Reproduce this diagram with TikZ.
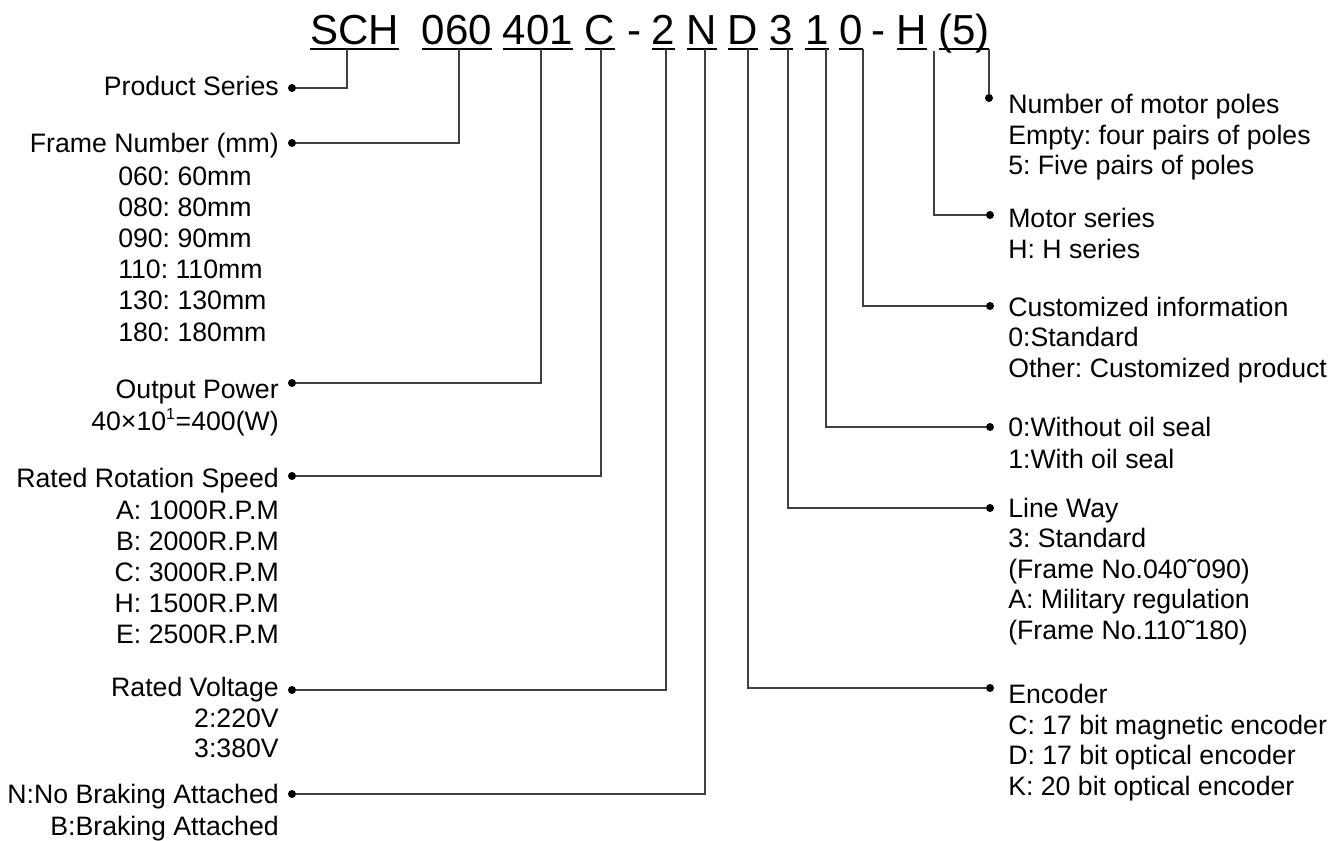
\documentclass[tikz,border=0pt]{standalone}
\usepackage{fontspec}
\setmainfont{Liberation Sans}
\frenchspacing
\begin{document}
\frenchspacing
\begin{tikzpicture}[x=0.75pt,y=-0.75pt,
  lbl/.style={inner sep=0pt,font=\fontsize{20}{24}\selectfont},
  lft/.style={lbl,anchor=base east},
  rgt/.style={lbl,anchor=base west},
  hdr/.style={inner sep=0pt,anchor=base,font=\fontsize{31.5}{36}\selectfont},
  uline/.style={line width=1pt},
  conn/.style={draw=black!75,line width=0.8pt},
  dot/.style={circle,fill=black,inner sep=0pt,minimum size=6pt}]
\useasboundingbox (0,0) rectangle (1341,841);
% header tokens
\node[hdr] (tSCH) at (354.5,45) {SCH};
\node[hdr] (t060) at (457,45) {060};
\node[hdr] (t401) at (538,45) {401};
\node[hdr] (tC) at (600,45) {C};
\node[hdr] (tda) at (634,45) {-};
\node[hdr] (t2) at (663.5,45) {2};
\node[hdr] (tN) at (702,45) {N};
\node[hdr] (tD) at (743,45) {D};
\node[hdr] (t3) at (781.5,45) {3};
\node[hdr] (t1) at (817,45) {1};
\node[hdr] (t0) at (851,45) {0};
\node[hdr] (tdb) at (878,45) {-};
\node[hdr] (tH) at (912,45) {H};
\node[hdr] (t5) at (964,45) {(5)};
% underlines
\foreach \a/\b in {310/399,422/492,503/573,585/615,652/675,687/717,728/758,770/793,805/829,839/863,897/927,939/989}
  \draw[uline] (\a,49) -- (\b,49);
% anchor coordinates on underlines
\coordinate (uSCH) at (347,49);
\coordinate (u060) at (459,49);
\coordinate (u401) at (541,49);
\coordinate (uC) at (601,49);
\coordinate (u2) at (666,49);
\coordinate (uN) at (705,49);
\coordinate (uD) at (748,49);
\coordinate (u3) at (788,49);
\coordinate (u1) at (826,49);
\coordinate (u0) at (863,49);
\coordinate (uH) at (934,51);
\coordinate (u5) at (989,49);
% dots
\node[dot] (dPS) at (292,88) {};
\node[dot] (dFN) at (292,143) {};
\node[dot] (dOP) at (292,383) {};
\node[dot] (dRS) at (292,476) {};
\node[dot] (dRV) at (292,690) {};
\node[dot] (dNB) at (292,794) {};
\node[dot] (dNP) at (989,98) {};
\node[dot] (dMS) at (990,215) {};
\node[dot] (dCI) at (990,306) {};
\node[dot] (dOS) at (990,427) {};
\node[dot] (dLW) at (990,508) {};
\node[dot] (dEN) at (990,688) {};
% connectors
\draw[conn] (uSCH) |- (dPS);
\draw[conn] (u060) |- (dFN);
\draw[conn] (u401) |- (dOP);
\draw[conn] (uC) |- (dRS);
\draw[conn] (u2) |- (dRV);
\draw[conn] (uN) |- (dNB);
\draw[conn] (uD) |- (dEN);
\draw[conn] (u3) |- (dLW);
\draw[conn] (u1) |- (dOS);
\draw[conn] (u0) |- (dCI);
\draw[conn] (uH) |- (dMS);
\draw[conn] (u5) -- (dNP);
% left labels
\node[lft] (lPS) at (279,96) {Product Series};
\node[lft] (lFN) at (279,153) {Frame Number (mm)};
\node[lbl,anchor=base west] (lFN1) at (118,186) {060: 60mm};
\node[lbl,anchor=base west] (lFN2) at (118,217) {080: 80mm};
\node[lbl,anchor=base west] (lFN3) at (118,248) {090: 90mm};
\node[lbl,anchor=base west] (lFN4) at (118,279) {110: 110mm};
\node[lbl,anchor=base west] (lFN5) at (118,310) {130: 130mm};
\node[lbl,anchor=base west] (lFN6) at (118,341) {180: 180mm};
\node[lft] (lOP) at (279,398) {Output Power};
\node[lft] (lOP1) at (279,430) {40×10\textsuperscript{\fontsize{12}{12}\selectfont 1}=400(W)};
\node[lft] (lRS) at (279,487) {Rated Rotation Speed};
\node[lft] (lRS1) at (279,519) {A: 1000R.P.M};
\node[lft] (lRS2) at (279,550) {B: 2000R.P.M};
\node[lft] (lRS3) at (279,581) {C: 3000R.P.M};
\node[lft] (lRS4) at (279,612) {H: 1500R.P.M};
\node[lft] (lRS5) at (279,643) {E: 2500R.P.M};
\node[lft] (lRV) at (279,696) {Rated Voltage};
\node[lft] (lRV1) at (279,727) {2:220V};
\node[lft] (lRV2) at (279,757) {3:380V};
\node[lft] (lNB) at (279,803) {N:No Braking Attached};
\node[lft] (lNB1) at (279,835) {B:Braking Attached};
% right labels
\node[rgt] (rNP) at (1008,114) {Number of motor poles};
\node[rgt] (rNP1) at (1008,145) {Empty: four pairs of poles};
\node[rgt] (rNP2) at (1008,175) {5: Five pairs of poles};
\node[rgt] (rMS) at (1008,228) {Motor series};
\node[rgt] (rMS1) at (1008,259) {H: H series};
\node[rgt] (rCI) at (1008,317) {Customized information};
\node[rgt] (rCI1) at (1008,347) {0:Standard};
\node[rgt] (rCI2) at (1008,378) {Other: Customized product};
\node[rgt] (rOS) at (1008,436) {0:Without oil seal};
\node[rgt] (rOS1) at (1008,468) {1:With oil seal};
\node[rgt] (rLW) at (1008,517) {Line Way};
\node[rgt] (rLW1) at (1008,547) {3: Standard};
\node[rgt] (rLW2) at (1008,578) {(Frame No.040\char"02DC 090)};
\node[rgt] (rLW3) at (1008,608) {A: Military regulation};
\node[rgt] (rLW4) at (1008,639) {(Frame No.110\char"02DC 180)};
\node[rgt] (rEN) at (1008,703) {Encoder};
\node[rgt] (rEN1) at (1008,734) {C: 17 bit magnetic encoder};
\node[rgt] (rEN2) at (1008,764) {D: 17 bit optical encoder};
\node[rgt] (rEN3) at (1008,795) {K: 20 bit optical encoder};
\end{tikzpicture}
\end{document}
